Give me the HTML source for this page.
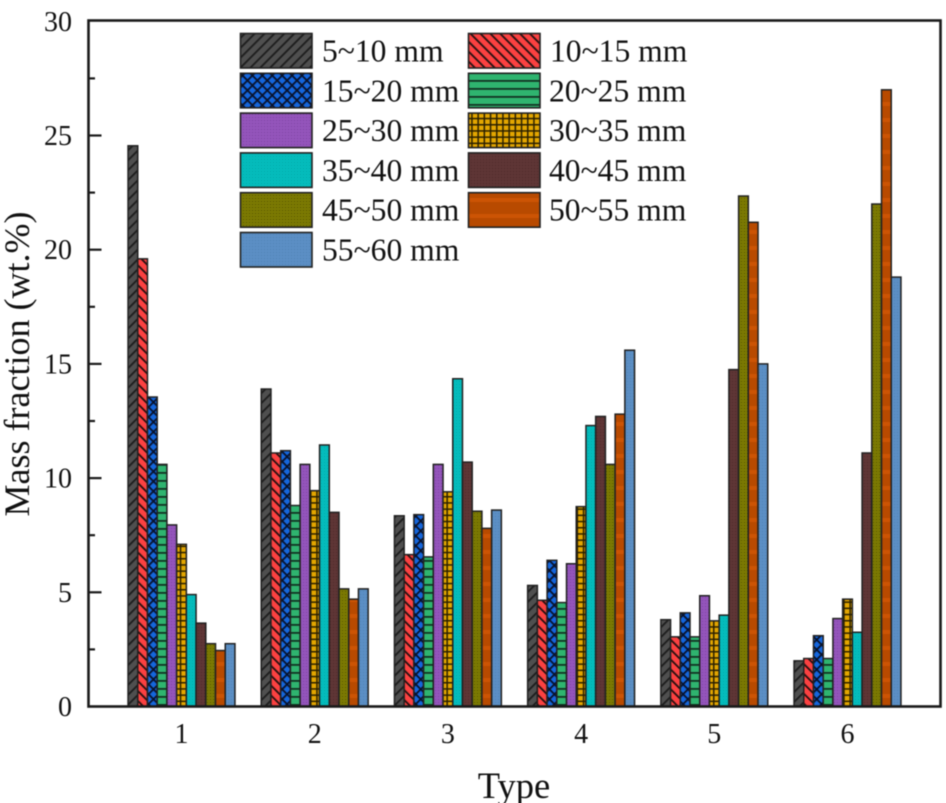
<!DOCTYPE html>
<html lang="en">
<head>
<meta charset="utf-8">
<title>Mass fraction by type</title>
<style>
html,body{margin:0;padding:0;background:#fff;width:946px;height:803px;overflow:hidden}
svg{display:block;font-family:"Liberation Serif",serif;fill:#111}
#plot-layer{filter:blur(0.6px)}
</style>
</head>
<body>
<svg id="chart" width="946" height="803" viewBox="0 0 946 803" xmlns="http://www.w3.org/2000/svg">
<defs>
<pattern id="p0" patternUnits="userSpaceOnUse" width="7" height="7" patternTransform="rotate(45)"><rect width="7" height="7" fill="#4f4f4f"/><rect x="0" width="1.8" height="7" fill="#1c1c1c"/></pattern>
<pattern id="p1" patternUnits="userSpaceOnUse" width="7" height="7" patternTransform="rotate(-45)"><rect width="7" height="7" fill="#fb4141"/><rect x="0" width="1.8" height="7" fill="#231010"/></pattern>
<pattern id="p2" patternUnits="userSpaceOnUse" width="7" height="7" patternTransform="rotate(45)"><rect width="7" height="7" fill="#1566dc"/><rect x="0" width="1.8" height="7" fill="#08122c"/><rect y="0" width="7" height="1.8" fill="#08122c"/></pattern>
<pattern id="p3" patternUnits="userSpaceOnUse" width="8" height="8"><rect width="8" height="8" fill="#2fb46f"/><rect y="0" width="8" height="1.8" fill="#123322"/></pattern>
<pattern id="p4" patternUnits="userSpaceOnUse" width="3" height="3"><rect width="3" height="3" fill="#9455bb"/><rect width="1" height="1" fill="#7c44a2"/></pattern>
<pattern id="p5" patternUnits="userSpaceOnUse" width="6.2" height="6.2"><rect width="6.2" height="6.2" fill="#e3a600"/><rect width="1.5" height="6.2" fill="#2a2000"/><rect width="6.2" height="1.5" fill="#2a2000"/></pattern>
<pattern id="p6" patternUnits="userSpaceOnUse" width="3" height="3"><rect width="3" height="3" fill="#04bcbc"/><rect width="1" height="1" fill="#03a8a8"/></pattern>
<pattern id="p7" patternUnits="userSpaceOnUse" width="3" height="3"><rect width="3" height="3" fill="#5e3535"/><rect width="1" height="1" fill="#4f2a2a"/></pattern>
<pattern id="p8" patternUnits="userSpaceOnUse" width="3" height="3"><rect width="3" height="3" fill="#7c7a02"/><rect width="1" height="1" fill="#565400"/></pattern>
<pattern id="p9" patternUnits="userSpaceOnUse" width="16" height="16"><rect width="16" height="16" fill="#b84a00"/><rect y="6" width="16" height="4" fill="#cc5404"/></pattern>
<pattern id="p10" patternUnits="userSpaceOnUse" width="3" height="3"><rect width="3" height="3" fill="#5b8fc4"/><rect width="1" height="1" fill="#4f80b4"/></pattern>
</defs>
<g id="plot-layer"></g>
</svg>
<script>
const categories = ["1", "2", "3", "4", "5", "6"];
const yTickLabels = [0, 5, 10, 15, 20, 25, 30];
const yMinorTicks = [2.5, 7.5, 12.5, 17.5, 22.5, 27.5];
const seriesNames = ["5~10 mm", "10~15 mm", "15~20 mm", "20~25 mm", "25~30 mm", "30~35 mm", "35~40 mm", "40~45 mm", "45~50 mm", "50~55 mm", "55~60 mm"];
const size5to10 = [24.55, 13.9, 8.35, 5.3, 3.8, 2.0];
const size10to15 = [19.6, 11.1, 6.65, 4.65, 3.05, 2.1];
const size15to20 = [13.55, 11.2, 8.4, 6.4, 4.1, 3.1];
const size20to25 = [10.6, 8.8, 6.55, 4.55, 3.05, 2.1];
const size25to30 = [7.95, 10.6, 10.6, 6.25, 4.85, 3.85];
const size30to35 = [7.1, 9.45, 9.4, 8.75, 3.75, 4.7];
const size35to40 = [4.9, 11.45, 14.35, 12.3, 4.0, 3.25];
const size40to45 = [3.65, 8.5, 10.7, 12.7, 14.75, 11.1];
const size45to50 = [2.75, 5.15, 8.55, 10.6, 22.35, 22.0];
const size50to55 = [2.45, 4.7, 7.8, 12.8, 21.2, 27.0];
const size55to60 = [2.75, 5.15, 8.6, 15.6, 15.0, 18.8];
const seriesValues = [size5to10, size10to15, size15to20, size20to25, size25to30, size30to35, size35to40, size40to45, size45to50, size50to55, size55to60];

const NS = "http://www.w3.org/2000/svg";
const layer = document.getElementById("plot-layer");
const INK = "#1a1a1a";

function yScale(v) { return 706.5 - v * 22.84; }
function xGroup(i) { return 181.5 + i * 133.2; }
const barW = 9.72;
function xBar(i, s) { return xGroup(i) - barW * seriesNames.length / 2 + s * barW; }

function make(tag, attrs, text) {
  const el = document.createElementNS(NS, tag);
  for (const k in attrs) el.setAttribute(k, attrs[k]);
  if (text !== undefined) el.textContent = text;
  layer.appendChild(el);
  return el;
}

// bars
seriesValues.forEach(function (vals, s) {
  vals.forEach(function (v, i) {
    const bar = make("rect", {
      x: xBar(i, s), y: yScale(v), width: barW, height: yScale(0) - yScale(v),
      fill: "url(#p" + s + ")", stroke: "#222", "stroke-width": 1.5
    });
    
    
  });
});

// frame
const frame = make("rect", { x: 88.5, y: 20.5, width: 852, height: 686, fill: "none", stroke: INK, "stroke-width": 2.6 });



// y ticks
yTickLabels.forEach(function (v) {
  if (v > 0 && v < 30) {
    const tick = make("line", { x1: 88.5, x2: 101.5, y1: yScale(v), y2: yScale(v), stroke: INK, "stroke-width": 2.2 });
    
    
  }
  const label = make("text", { x: 72, y: yScale(v) + 9.5, "text-anchor": "end", "font-size": 28 }, String(v));
  
  
});
yMinorTicks.forEach(function (v) {
  const tick = make("line", { x1: 88.5, x2: 95, y1: yScale(v), y2: yScale(v), stroke: INK, "stroke-width": 2.2 });
  
  
});

// x tick labels
categories.forEach(function (c, i) {
  const label = make("text", { x: xGroup(i), y: 743, "text-anchor": "middle", "font-size": 28 }, c);
  
  
});

// axis titles
const xTitle = make("text", { x: 514, y: 798, "text-anchor": "middle", "font-size": 36.5 }, "Type");


const yTitle = make("text", { x: 0, y: 0, "text-anchor": "middle", "font-size": 36, transform: "translate(29 364) rotate(-90)" }, "Mass fraction (wt.%)");



// legend
seriesNames.forEach(function (name, s) {
  const col = s % 2;
  const row = Math.floor(s / 2);
  const sx = col === 0 ? 240.5 : 468.5;
  const sy = 33.5 + row * 39.8;
  const swatch = make("rect", { x: sx, y: sy, width: 71.5, height: 34.5, fill: "url(#p" + s + ")", stroke: "#222", "stroke-width": 1.6 });
  
  
  const label = make("text", { x: col === 0 ? 322 : (s === 1 ? 550 : 549), y: sy + 28, "font-size": 31.6 }, name);
  
  
});
</script>
</body>
</html>
